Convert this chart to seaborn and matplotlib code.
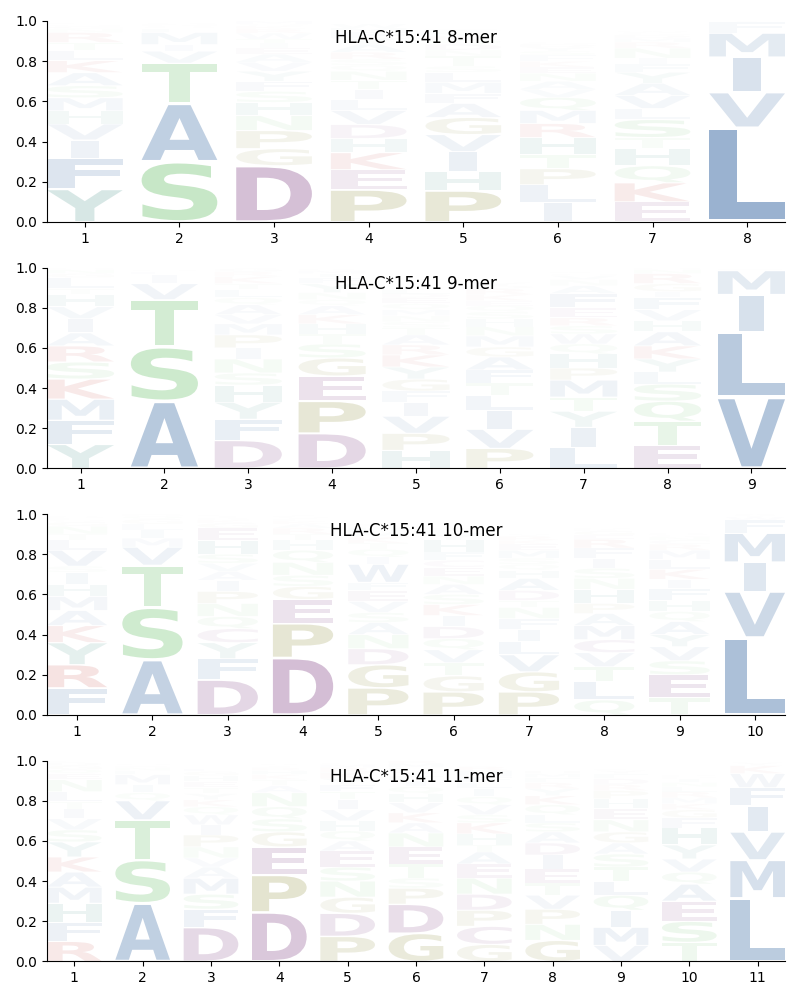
import matplotlib
matplotlib.use("Agg")
import matplotlib.pyplot as plt
import seaborn as sns
from matplotlib.font_manager import FontProperties
from matplotlib.patches import PathPatch
from matplotlib.textpath import TextPath
from matplotlib.transforms import Affine2D

ALLELE = "HLA-C*15:41"
LENGTHS = [8, 9, 10, 11]

# Letters from the bottom of each stack upward, with their heights.
LETTERS_8 = ["YFIVHMSAKLTRNGQEDW", "SATVIMLQNGC", "DGPNHSFYVAEITWRKQM", "PEKHDVLITNQSRAYFMW",
             "PHIVGAFMLSTNDQKYRE", "ILPTHRMQVANEKFSYDG", "EKQHTSLVAYFINRMDGW", "LVIMFY"]
HEIGHTS_8 = [
    [.163, .155, .09, .08, .065, .065, .06, .065, .06, .05, .04, .05, .018, .013, .009, .007, .004, .003],
    [.30, .29, .20, .06, .033, .06, .02, .012, .01, .005, .003],
    [.28, .085, .09, .075, .065, .055, .05, .05, .045, .04, .03, .025, .02, .03, .02, .015, .01, .015],
    [.16, .10, .085, .07, .07, .07, .055, .05, .045, .045, .03, .03, .035, .04, .03, .03, .02, .02],
    [.155, .095, .10, .085, .085, .07, .05, .055, .05, .03, .05, .03, .03, .02, .02, .015, .012, .01],
    [.095, .09, .08, .07, .085, .07, .065, .065, .04, .04, .04, .03, .03, .03, .02, .02, .015, .01],
    [.10, .095, .085, .085, .055, .09, .055, .065, .06, .055, .04, .03, .05, .03, .02, .015, .01, .01],
    [.47, .175, .175, .12, .055, .005],
]
LETTERS_9 = ["YFMKSRAIVHTLGNQEDP", "ASTVILQMNG", "DFYHSNIPMVAQLTKRGE", "DPEGSTHKAQNYFIMRVC",
             "HPVIFGYKRATSNMQEDL", "PVILTFAGMNHSQEKRDY", "LIYTMPHQWSREFANVGK", "ETQSLYKAHVFIGRND", "VLIMFY"]
HEIGHTS_9 = [
    [.12, .12, .105, .10, .085, .08, .065, .07, .06, .06, .03, .055, .02, .02, .01, .01, .005, .005],
    [.335, .27, .235, .08, .045, .015, .01, .005, .003, .002],
    [.14, .105, .085, .085, .06, .07, .055, .065, .055, .045, .05, .035, .04, .03, .035, .025, .015, .005],
    [.175, .16, .125, .09, .07, .05, .05, .045, .045, .03, .035, .045, .03, .02, .015, .01, .01, .005],
    [.09, .085, .085, .07, .055, .06, .06, .06, .05, .05, .035, .03, .03, .03, .03, .03, .02, .02],
    [.10, .095, .095, .075, .06, .065, .065, .05, .055, .045, .04, .035, .03, .025, .03, .03, .015, .015],
    [.105, .10, .08, .07, .085, .06, .07, .05, .05, .04, .04, .05, .07, .04, .03, .02, .01, .01],
    [.115, .12, .10, .085, .06, .065, .065, .07, .055, .055, .06, .03, .04, .05, .02, .01],
    [.355, .325, .185, .12, .01, .005],
]
LETTERS_10 = ["FRYKAMHISVLTNGQEDP", "ASTVMILGQNF", "DFYCQNPIAVSHEGKRTL", "DPEGSNQHTRAKFVLIYM",
              "PGDNASVEFWIQTKMHRL", "PGTVQDIKSANECFHYLR", "PGVLIFNTDAHQSMEKRY", "QLTVCMAPHNSIFREGKD",
              "TESVYAQHFIKLMRCNGD", "LVIMFWYA"]
HEIGHTS_10 = [
    [.135, .115, .11, .085, .075, .07, .06, .06, .03, .08, .05, .03, .04, .02, .01, .01, .005, .005],
    [.275, .26, .21, .09, .045, .04, .03, .025, .015, .005, .005],
    [.175, .105, .08, .07, .06, .065, .06, .055, .045, .04, .045, .07, .06, .025, .015, .01, .01, .005],
    [.285, .17, .12, .065, .055, .065, .06, .05, .03, .03, .02, .015, .01, .01, .005, .005, .003, .002],
    [.135, .115, .08, .07, .06, .05, .055, .055, .04, .09, .035, .04, .03, .03, .025, .02, .01, .01],
    [.115, .08, .065, .065, .055, .06, .055, .055, .05, .05, .04, .045, .035, .04, .06, .03, .02, .01],
    [.115, .10, .085, .065, .06, .055, .055, .035, .05, .06, .04, .03, .03, .04, .03, .02, .02, .01],
    [.075, .09, .075, .07, .065, .07, .06, .05, .07, .055, .05, .05, .05, .045, .02, .02, .01, .005],
    [.085, .115, .07, .07, .06, .065, .05, .055, .06, .045, .05, .05, .045, .03, .02, .015, .01, .01],
    [.385, .23, .145, .145, .065, .015, .01, .005],
]
LETTERS_11 = ["RFHMAKYSVITLNEQGDC", "ASTVQIMLNEG", "DFSMAVNPIWQKYTEHGL", "DPEGSQNATKHRYVFMIL",
              "PDGNSEAQHVITFYKRMC", "GDPSTENAKVHQIFYLMR", "GCPDNEATHKSVQILFMR", "GNPVTEIDASLQKYRFMH",
              "VMIQLTSAGNEHPRDFYK", "TSEAQVYHFGKMRLNIDP", "LMVIFWKY"]
HEIGHTS_11 = [
    [.10, .095, .095, .08, .075, .075, .075, .06, .055, .05, .035, .05, .06, .03, .02, .02, .015, .01],
    [.29, .215, .20, .095, .04, .04, .05, .02, .015, .01, .01],
    [.17, .09, .075, .08, .055, .045, .055, .06, .05, .05, .04, .035, .03, .03, .03, .03, .02, .015],
    [.245, .185, .14, .075, .065, .06, .07, .035, .03, .025, .02, .015, .01, .01, .005, .005, .003, .002],
    [.125, .115, .08, .08, .07, .08, .05, .05, .05, .055, .05, .04, .035, .03, .03, .025, .015, .01],
    [.14, .145, .08, .05, .07, .085, .07, .05, .05, .05, .045, .035, .03, .025, .02, .02, .02, .015],
    [.085, .09, .08, .08, .08, .07, .06, .035, .055, .055, .04, .05, .04, .04, .03, .03, .03, .02],
    [.105, .08, .075, .07, .06, .07, .07, .06, .055, .045, .04, .05, .045, .035, .03, .025, .02, .015],
    [.08, .09, .085, .075, .07, .07, .065, .055, .055, .06, .055, .05, .04, .03, .03, .025, .015, .01],
    [.095, .105, .10, .085, .06, .065, .07, .085, .05, .04, .03, .03, .03, .025, .02, .02, .01, .01],
    [.315, .19, .14, .13, .09, .07, .04, .015],
]

# RGB base colour of each residue class; opacity follows the letter's height.
BLUE, GREEN, PURPLE = "#285D9B", "#48B248", "#691E6D"
OLIVE, RED, TEAL = "#6F6F00", "#B50D00", "#107266"
CLASS_COLOURS = {**dict.fromkeys("AFILMVW", BLUE), **dict.fromkeys("NQST", GREEN),
                 **dict.fromkeys("CDE", PURPLE), **dict.fromkeys("GP", OLIVE),
                 **dict.fromkeys("KR", RED), **dict.fromkeys("HY", TEAL)}

PANELS = [(LETTERS_8, HEIGHTS_8), (LETTERS_9, HEIGHTS_9),
          (LETTERS_10, HEIGHTS_10), (LETTERS_11, HEIGHTS_11)]
FONT = FontProperties(family="DejaVu Sans", weight="bold")


def draw_letter(ax, letter, x, bottom, height):
    """Draw a glyph scaled to fill its box; I keeps the width of a letter stem."""
    path = TextPath((0, 0), letter, size=1, prop=FONT)
    box = path.get_extents()
    pad = height * 0.03
    width = 0.296 if letter == "I" else 0.8
    to_data = (Affine2D()
               .translate(-box.x0, -box.y0)
               .scale(width / box.width, (height - 2 * pad) / box.height)
               .translate(x - width / 2, bottom + pad))
    alpha = min(1.0, height * min(1.0, 0.4 + 5 * height))
    ax.add_patch(PathPatch(path.transformed(to_data), facecolor=CLASS_COLOURS[letter],
                           edgecolor="none", alpha=alpha))


fig, axes = plt.subplots(4, 1, figsize=(8, 10), dpi=100)
fig.subplots_adjust(left=0.05875, right=0.98125, top=0.979, bottom=0.0385, hspace=0.2264)

for ax, length, (letters, heights) in zip(axes, LENGTHS, PANELS):
    for pos, (stack, values) in enumerate(zip(letters, heights), start=1):
        assert len(stack) == len(values), (length, pos, len(stack), len(values))
        bottom = 0.0
        for letter, value in zip(stack, values):
            draw_letter(ax, letter, pos, bottom, value)
            bottom += value
    ax.set_xlim(0.6, length + 0.4)
    ax.set_ylim(0, 1)
    ax.set_xticks(range(1, length + 1))
    ax.set_title(f"{ALLELE} {length}-mer", y=0.85)
    sns.despine(ax=ax)

fig.savefig("out.png", dpi=100)
